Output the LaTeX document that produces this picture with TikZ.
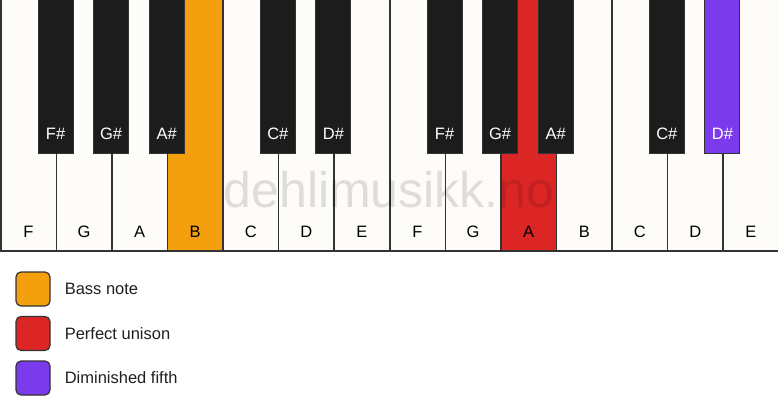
\documentclass[tikz,border=0pt]{standalone}
\usepackage{fontspec}
\setmainfont{Liberation Sans}
\usetikzlibrary{positioning}
\definecolor{keywhite}{HTML}{FDFCF9}
\definecolor{keyblack}{HTML}{1C1C1C}
\definecolor{keyline}{HTML}{333333}
\definecolor{bassorange}{HTML}{F39F0E}
\definecolor{unisonred}{HTML}{DC2626}
\definecolor{fifthpurple}{HTML}{7C3AED}
\begin{document}
\begin{tikzpicture}[x=1pt,y=-1pt,
  white key/.style={draw=keyline,line width=1.5pt,minimum width=55.57pt,minimum height=254pt,inner sep=0pt,anchor=north west},
  black key/.style={draw=keyline,line width=1pt,minimum width=35pt,minimum height=157pt,inner sep=0pt,anchor=north},
  key label/.style={font=\fontsize{16.5}{19}\selectfont},
  legend box/.style={draw=keyline,line width=1.2pt,rounded corners=5pt,minimum size=34pt,inner sep=0pt},
  legend text/.style={font=\fontsize{16.5}{19}\selectfont,text=black!88,inner sep=0pt}]

  \useasboundingbox (0,0) rectangle (778,417);

  % white keys
  \foreach \n/\c [count=\i from 0] in {F/keywhite,G/keywhite,A/keywhite,B/bassorange,C/keywhite,D/keywhite,E/keywhite,
      F/keywhite,G/keywhite,A/unisonred,B/keywhite,C/keywhite,D/keywhite,E/keywhite} {
    \node[white key,fill=\c] (w\i) at (\i*55.571,-4) {};
    \node[key label] (lw\i) at ([yshift=20pt]w\i.south) {\n};
  }

  \node[font=\fontsize{50}{54}\selectfont,text=black,opacity=0.12] (mark) at (389,190) {dehlimusikk.no};

  % black keys
  \foreach \k/\n/\c in {1/F\#/keyblack,2/G\#/keyblack,3/A\#/keyblack,5/C\#/keyblack,6/D\#/keyblack,
      8/F\#/keyblack,9/G\#/keyblack,10/A\#/keyblack,12/C\#/keyblack,13/D\#/fifthpurple} {
    \node[black key,fill=\c] (b\k) at (\k*55.571,-4) {};
    \node[key label,text=white] (lb\k) at ([yshift=20pt]b\k.south) {\n};
  }

  % legend
  \node[legend box,fill=bassorange] (bass) at (33,289) {};
  \node[legend box,fill=unisonred] (unison) at (33,333.5) {};
  \node[legend box,fill=fifthpurple] (dim) at (33,378) {};
  \node[legend text,right=14pt of bass] {Bass note};
  \node[legend text,right=14pt of unison] {Perfect unison};
  \node[legend text,right=14pt of dim] {Diminished fifth};
\end{tikzpicture}
\end{document}
